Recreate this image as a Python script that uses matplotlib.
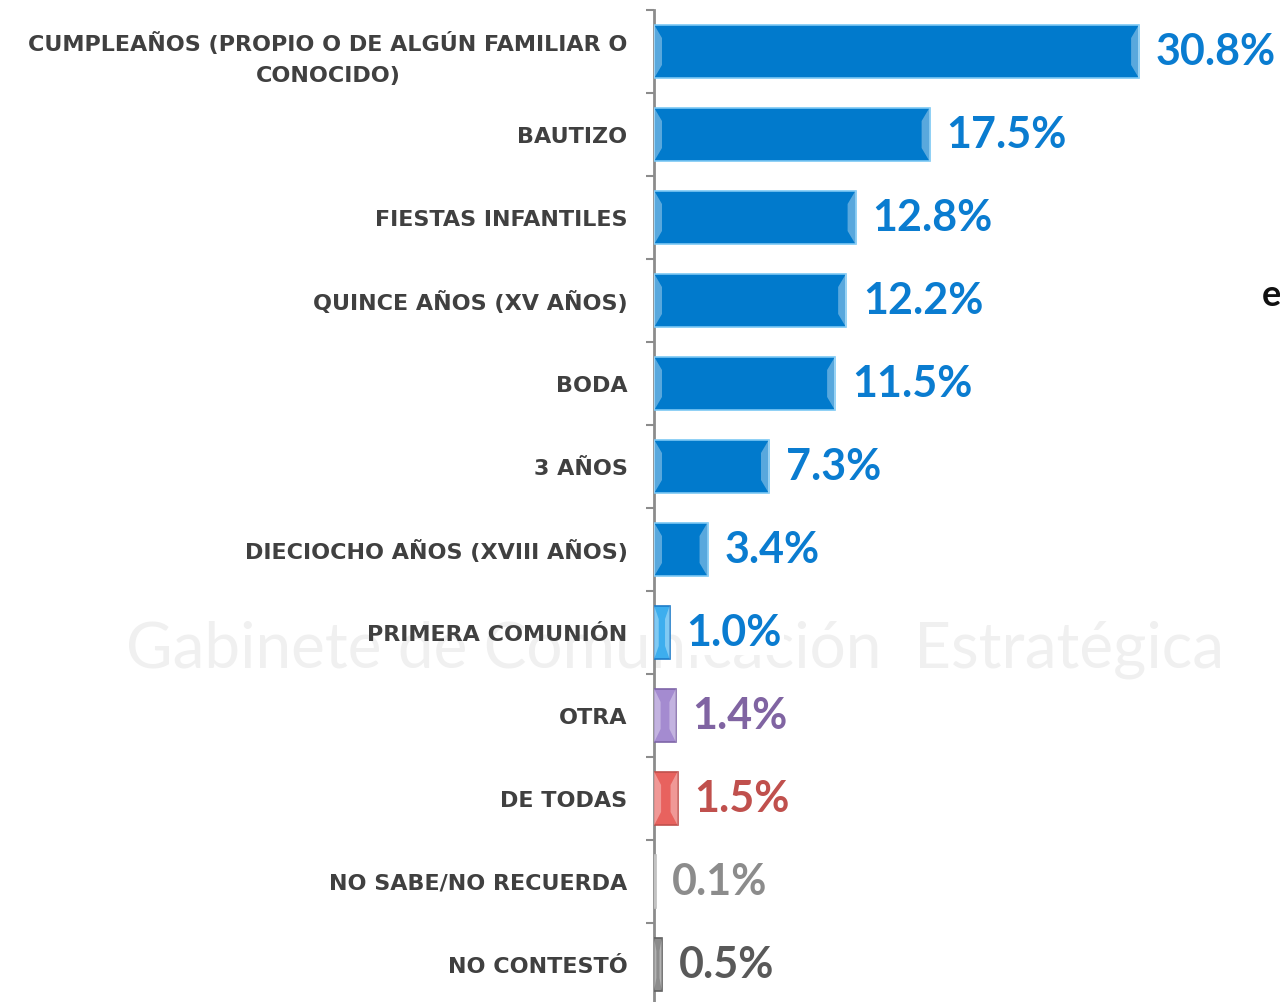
import matplotlib
matplotlib.use("Agg")
import matplotlib.pyplot as plt
from matplotlib.patches import Polygon

categories = [
    "CUMPLEAÑOS (PROPIO O DE ALGÚN FAMILIAR O\nCONOCIDO)",
    "BAUTIZO",
    "FIESTAS INFANTILES",
    "QUINCE AÑOS (XV AÑOS)",
    "BODA",
    "3 AÑOS",
    "DIECIOCHO AÑOS (XVIII AÑOS)",
    "PRIMERA COMUNIÓN",
    "OTRA",
    "DE TODAS",
    "NO SABE/NO RECUERDA",
    "NO CONTESTÓ",
]
values = [30.8, 17.5, 12.8, 12.2, 11.5, 7.3, 3.4, 1.0, 1.4, 1.5, 0.1, 0.5]
value_labels = ["30.8%", "17.5%", "12.8%", "12.2%", "11.5%", "7.3%", "3.4%",
                "1.0%", "1.4%", "1.5%", "0.1%", "0.5%"]

bar_colors = ["#017ACC"] * 7 + ["#3DAEEE", "#A48BD0", "#E8625E", "#D9D9D9", "#8C8C8C"]
edge_colors = ["#7CC8F4"] * 7 + ["#1E7CC8", "#7E65A8", "#C0504D", "#BFBFBF", "#5F5F5F"]
text_colors = ["#0A7CD0"] * 8 + ["#8064A2", "#C0504D", "#8C8C8C", "#595959"]

LABEL_FONT = "DejaVu Sans"
VALUE_FONT = "Lato"

fig = plt.figure(figsize=(12.8, 10.02), dpi=100)
W, H = 1280, 1002

# background layer with faint watermark
bg = fig.add_axes([0, 0, 1, 1], zorder=-1)
bg.set_xlim(0, W)
bg.set_ylim(H, 0)
bg.axis("off")
bg.text(675, 650, "Gabinete de Comunicación  Estratégica", fontsize=46,
        color="#F0F0F0", ha="center", va="center", family=VALUE_FONT)
bg.text(1262, 295, "e", fontsize=26, color="#111111", ha="left",
        va="center", family=VALUE_FONT, fontweight="bold")

ax_left, ax_top, ax_bot = 654, 10, 1006
ax = fig.add_axes([ax_left / W, 1 - ax_bot / H, (W - ax_left) / W, (ax_bot - ax_top) / H],
                  zorder=1)
ax.patch.set_alpha(0)

n = len(categories)
ypos = list(range(n))
bh = 0.65
ax.barh(ypos, values, height=bh, color=bar_colors, edgecolor=edge_colors,
        linewidth=1.2, zorder=3)

xmax = (W - ax_left) / 15.75
ax.set_xlim(0, xmax)
ax.set_ylim(n - 0.5, -0.5)

# bevel highlights at bar ends
px = xmax / (W - ax_left)
for y, v in zip(ypos, values):
    if v < 0.3:
        continue
    bw = min(8 * px, v * 0.3)
    top, bot = y - bh / 2, y + bh / 2
    d = bh * 0.25
    for x0, x1 in ((0, bw), (v, v - bw)):
        poly = Polygon([(x0, top), (x1, top + d), (x1, bot - d), (x0, bot)],
                       closed=True, facecolor="white", alpha=0.35, edgecolor="none", zorder=4)
        ax.add_patch(poly)

for y, v, lab, tc in zip(ypos, values, value_labels, text_colors):
    ax.annotate(lab, (v, y), xytext=(12, 0), textcoords="offset points",
                ha="left", va="center", fontsize=31, fontweight="bold",
                color=tc, family=VALUE_FONT, zorder=5,
                bbox=dict(boxstyle="square,pad=0.05", facecolor="white", edgecolor="none"))

ax.set_yticks(ypos)
ax.set_yticklabels(categories, fontsize=16, fontweight="bold", color="#404040",
                   family=LABEL_FONT, multialignment="center", linespacing=1.7)
ax.tick_params(axis="y", which="major", length=0, pad=19)
ax.set_yticks([i - 0.5 for i in range(n + 1)], minor=True)
ax.tick_params(axis="y", which="minor", length=6, width=1.5, color="#8C8C8C")
ax.set_xticks([])

for s in ["top", "right", "bottom"]:
    ax.spines[s].set_visible(False)
ax.spines["left"].set_color("#8C8C8C")
ax.spines["left"].set_linewidth(2)

fig.savefig("out.png", dpi=100)
